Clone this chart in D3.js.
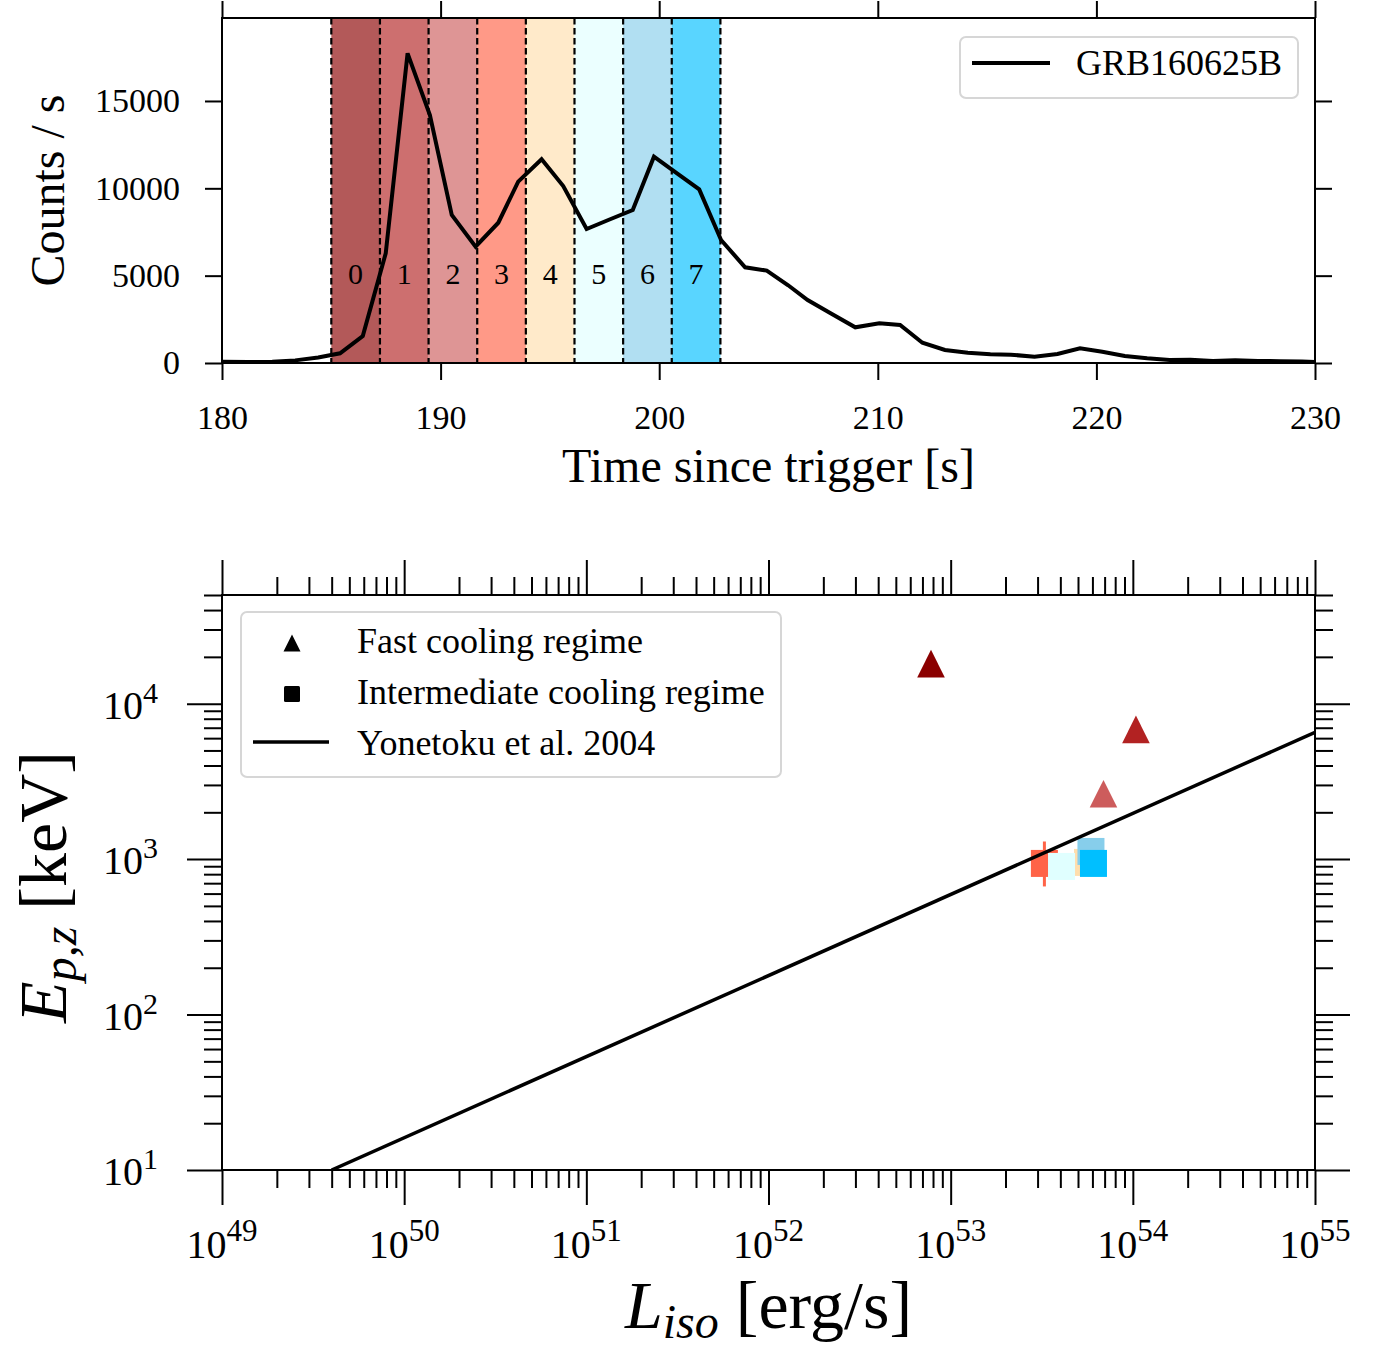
<!DOCTYPE html>
<html>
<head>
<meta charset="utf-8">
<style>
  body { margin: 0; background: #fff; }
  svg text { font-family: "Liberation Serif", "Times New Roman", serif; fill: #000; }
</style>
</head>
<body>
<script src="https://d3js.org/d3.v7.min.js"></script>
<script>
// ---- light curve (top panel) ----
var lcTime = [180.0, 181.2, 182.3, 183.35, 184.4, 185.4, 186.44, 187.49, 188.49, 189.51,
              190.51, 191.6, 192.64, 193.55, 194.62, 195.61, 196.68, 197.7, 198.79, 199.76,
              200.8, 201.83, 202.83, 203.93, 204.92, 205.9, 206.79, 207.9, 208.97, 210.07,
              211.02, 212.04, 213.07, 214.12, 215.15, 216.09, 217.17, 218.22, 219.25, 220.27,
              221.3, 222.32, 223.35, 224.3, 225.33, 226.35, 227.4, 228.4, 229.4, 230.0];
var lcCounts = [70, 60, 70, 150, 310, 555, 1545, 6280, 17727, 14196,
                8472, 6657, 8030, 10380, 11660, 10130, 7670, 8200, 8758, 11810,
                10870, 9940, 7040, 5480, 5290, 4450, 3606, 2800, 2043, 2272,
                2175, 1162, 744, 590, 498, 475, 361, 515, 841, 647,
                400, 269, 172, 189, 114, 155, 120, 100, 80, 60];

var bandEdges = [185, 187.225, 189.45, 191.675, 193.9, 196.125, 198.35, 200.575, 202.8];
var bandNames = ["0", "1", "2", "3", "4", "5", "6", "7"];
var bandColors = ["darkred", "firebrick", "indianred", "tomato",
                  "navajowhite", "lightcyan", "skyblue", "deepskyblue"];

var timeTicks = [180, 190, 200, 210, 220, 230];
var countTicks = [0, 5000, 10000, 15000];

// ---- Ep - Liso (bottom panel) ----
var ptBin = [0, 1, 2, 3, 4, 5, 6, 7];
var ptL = [7.8e52, 1.04e54, 6.9e53, 3.27e53, 5.64e53, 4.06e53, 5.89e53, 6.08e53];
var ptEp = [1.81e4, 6.83e3, 2.63e3, 938, 952, 897, 1120, 938];
var ptRegime = ["fast", "fast", "fast", "inter", "inter", "inter", "inter", "inter"];
var ptEpLo = [null, null, null, 667, null, null, null, null];
var ptEpHi = [null, null, null, 1298, null, null, null, null];

var yonetokuL = [4e49, 1e55];
var yonetokuEp = [10, 6540];

var lumMajor = [1e49, 1e50, 1e51, 1e52, 1e53, 1e54, 1e55];
var epMajor = [10, 100, 1000, 10000];

var W = 1387, H = 1353;
var svg = d3.select("body").append("svg").attr("width", W).attr("height", H);

// =============== top panel ===============
var t = { left: 222, right: 1315, top: 18, bottom: 363 };
var x1 = d3.scaleLinear().domain([180, 230]).range([t.left, t.right]);
var y1 = d3.scaleLinear().domain([0, 19750]).range([t.bottom, t.top]);

svg.append("clipPath").attr("id", "clipTop").append("rect")
  .attr("x", t.left).attr("y", t.top).attr("width", t.right - t.left).attr("height", t.bottom - t.top);

var bands = bandNames.map(function(n, i) {
  return { name: n, x0: bandEdges[i], x1: bandEdges[i + 1], color: bandColors[i] };
});

svg.append("g").selectAll("rect").data(bands).enter().append("rect")
  .attr("x", function(d) { return x1(d.x0); })
  .attr("width", function(d) { return x1(d.x1) - x1(d.x0); })
  .attr("y", t.top).attr("height", t.bottom - t.top)
  .attr("fill", function(d) { return d.color; })
  .attr("fill-opacity", 0.65);

svg.append("g").selectAll("line").data(bandEdges).enter().append("line")
  .attr("x1", function(d) { return x1(d); }).attr("x2", function(d) { return x1(d); })
  .attr("y1", t.top).attr("y2", t.bottom)
  .attr("stroke", "#000").attr("stroke-width", 2.2).attr("stroke-dasharray", "6.5,3.5");

svg.append("g").selectAll("text").data(bands).enter().append("text")
  .attr("x", function(d) { return x1((d.x0 + d.x1) / 2); })
  .attr("y", y1(5000) + 8)
  .attr("text-anchor", "middle").attr("font-size", 30)
  .text(function(d) { return d.name; });

var lc = lcTime.map(function(tt, i) { return [tt, lcCounts[i]]; });
svg.append("path").datum(lc)
  .attr("clip-path", "url(#clipTop)")
  .attr("fill", "none").attr("stroke", "#000").attr("stroke-width", 4)
  .attr("stroke-linejoin", "miter")
  .attr("d", d3.line().x(function(d) { return x1(d[0]); }).y(function(d) { return y1(d[1]); }));

function styleAxis(g, fs) {
  g.select(".domain").remove();
  g.selectAll(".tick line").attr("stroke", "#000").attr("stroke-width", 2);
  g.selectAll(".tick text").attr("font-size", fs).attr("font-family", "Liberation Serif, serif");
}

svg.append("g").attr("transform", "translate(0," + t.bottom + ")")
  .call(d3.axisBottom(x1).tickValues(timeTicks).tickSize(17).tickPadding(25).tickFormat(d3.format("d")))
  .call(styleAxis, 34);
svg.append("g").attr("transform", "translate(0," + t.top + ")")
  .call(d3.axisTop(x1).tickValues(timeTicks).tickSize(17).tickFormat(""))
  .call(styleAxis, 34);
svg.append("g").attr("transform", "translate(" + t.left + ",0)")
  .call(d3.axisLeft(y1).tickValues(countTicks).tickSize(17).tickPadding(25).tickFormat(d3.format("d")))
  .call(styleAxis, 34);
svg.append("g").attr("transform", "translate(" + t.right + ",0)")
  .call(d3.axisRight(y1).tickValues(countTicks).tickSize(17).tickFormat(""))
  .call(styleAxis, 34);

svg.append("rect").attr("x", t.left).attr("y", t.top)
  .attr("width", t.right - t.left).attr("height", t.bottom - t.top)
  .attr("fill", "none").attr("stroke", "#000").attr("stroke-width", 2);

svg.append("text").attr("x", (t.left + t.right) / 2).attr("y", 482)
  .attr("text-anchor", "middle").attr("font-size", 48).text("Time since trigger [s]");
svg.append("text").attr("transform", "translate(64," + ((t.top + t.bottom) / 2) + ") rotate(-90)")
  .attr("text-anchor", "middle").attr("font-size", 48).text("Counts / s");

// legend top
var lg1 = svg.append("g");
lg1.append("rect").attr("x", 960).attr("y", 37).attr("width", 338).attr("height", 61).attr("rx", 6)
  .attr("fill", "#fff").attr("stroke", "#d6d6d6").attr("stroke-width", 2);
lg1.append("line").attr("x1", 972).attr("x2", 1050).attr("y1", 63).attr("y2", 63)
  .attr("stroke", "#000").attr("stroke-width", 4);
lg1.append("text").attr("x", 1076).attr("y", 75).attr("font-size", 36).text("GRB160625B");

// =============== bottom panel ===============
var b = { left: 222, right: 1315, top: 595, bottom: 1170 };
var x2 = d3.scaleLog().domain([1e49, 1e55]).range([b.left, b.right]);
var y2 = d3.scaleLog().domain([10, 5e4]).range([b.bottom, b.top]);

svg.append("clipPath").attr("id", "clipBot").append("rect")
  .attr("x", b.left).attr("y", b.top).attr("width", b.right - b.left).attr("height", b.bottom - b.top);

var lumMinor = [], epMinor = [];
lumMajor.slice(0, -1).forEach(function(v) { for (var k = 2; k <= 9; k++) lumMinor.push(v * k); });
epMajor.forEach(function(v) { for (var k = 2; k <= 9; k++) if (v * k <= 5e4) epMinor.push(v * k); });

function logAxes() {
  [[d3.axisBottom, b.bottom], [d3.axisTop, b.top]].forEach(function(a) {
    svg.append("g").attr("transform", "translate(0," + a[1] + ")")
      .call(a[0](x2).tickValues(lumMajor).tickSize(35).tickFormat("")).call(styleAxis, 38);
    svg.append("g").attr("transform", "translate(0," + a[1] + ")")
      .call(a[0](x2).tickValues(lumMinor).tickSize(18).tickFormat("")).call(styleAxis, 38);
  });
  [[d3.axisLeft, b.left], [d3.axisRight, b.right]].forEach(function(a) {
    svg.append("g").attr("transform", "translate(" + a[1] + ",0)")
      .call(a[0](y2).tickValues(epMajor).tickSize(35).tickFormat("")).call(styleAxis, 38);
    svg.append("g").attr("transform", "translate(" + a[1] + ",0)")
      .call(a[0](y2).tickValues(epMinor).tickSize(18).tickFormat("")).call(styleAxis, 38);
  });
}
logAxes();

// tick labels 10^n
svg.append("g").selectAll("text").data(lumMajor).enter().append("text")
  .attr("x", function(d) { return x2(d); }).attr("y", 1258)
  .attr("text-anchor", "middle").attr("font-size", 40)
  .each(function(d) {
    var s = d3.select(this);
    s.append("tspan").text("10");
    s.append("tspan").attr("font-size", 31).attr("dy", -17).text(Math.round(Math.log10(d)));
  });
svg.append("g").selectAll("text").data(epMajor).enter().append("text")
  .attr("x", 158).attr("y", function(d) { return y2(d) + 15; })
  .attr("text-anchor", "end").attr("font-size", 40)
  .each(function(d) {
    var s = d3.select(this);
    s.append("tspan").text("10");
    s.append("tspan").attr("font-size", 30).attr("dy", -16).text(Math.round(Math.log10(d)));
  });

// points
var pts = ptBin.map(function(k, i) {
  return { L: ptL[i], Ep: ptEp[i], regime: ptRegime[i], color: bandColors[k], lo: ptEpLo[i], hi: ptEpHi[i] };
});
var gp = svg.append("g").attr("clip-path", "url(#clipBot)");
var th = 13.8, sq = 27;
pts.forEach(function(d) {
  var cx = x2(d.L), cy = y2(d.Ep);
  if (d.lo !== null) {
    gp.append("line").attr("x1", cx).attr("x2", cx).attr("y1", y2(d.lo)).attr("y2", y2(d.hi))
      .attr("stroke", d.color).attr("stroke-width", 3);
  }
  if (d.regime === "fast") {
    gp.append("path")
      .attr("d", "M" + cx + "," + (cy - th) + "L" + (cx + th) + "," + (cy + th) + "L" + (cx - th) + "," + (cy + th) + "Z")
      .attr("fill", d.color);
  } else {
    gp.append("rect").attr("x", cx - sq / 2).attr("y", cy - sq / 2).attr("width", sq).attr("height", sq)
      .attr("fill", d.color);
  }
});

// Yonetoku relation
svg.append("path").datum(yonetokuL.map(function(l, i) { return [l, yonetokuEp[i]]; }))
  .attr("clip-path", "url(#clipBot)")
  .attr("fill", "none").attr("stroke", "#000").attr("stroke-width", 3.5)
  .attr("d", d3.line().x(function(d) { return x2(d[0]); }).y(function(d) { return y2(d[1]); }));

svg.append("rect").attr("x", b.left).attr("y", b.top)
  .attr("width", b.right - b.left).attr("height", b.bottom - b.top)
  .attr("fill", "none").attr("stroke", "#000").attr("stroke-width", 2);

// legend bottom
var lg2 = svg.append("g");
lg2.append("rect").attr("x", 241).attr("y", 612).attr("width", 540).attr("height", 165).attr("rx", 6)
  .attr("fill", "#fff").attr("stroke", "#d6d6d6").attr("stroke-width", 2);
var lh = 8.5;
lg2.append("path")
  .attr("d", "M292," + (643 - lh) + "L" + (292 + lh) + "," + (643 + lh) + "L" + (292 - lh) + "," + (643 + lh) + "Z")
  .attr("fill", "#000");
lg2.append("rect").attr("x", 284).attr("y", 686).attr("width", 16).attr("height", 16).attr("rx", 1.5).attr("fill", "#000");
lg2.append("line").attr("x1", 253).attr("x2", 329).attr("y1", 742).attr("y2", 742)
  .attr("stroke", "#000").attr("stroke-width", 3.5);
var legendText = ["Fast cooling regime", "Intermediate cooling regime", "Yonetoku et al. 2004"];
lg2.selectAll("text").data(legendText).enter().append("text")
  .attr("x", 357).attr("y", function(d, i) { return 653 + i * 51; })
  .attr("font-size", 36).text(function(d) { return d; });

// axis labels
var xl = svg.append("text").attr("x", (b.left + b.right) / 2).attr("y", 1328)
  .attr("text-anchor", "middle").attr("font-size", 68);
xl.append("tspan").attr("font-style", "italic").text("L");
xl.append("tspan").attr("font-style", "italic").attr("font-size", 48).attr("dy", 10).text("iso");
xl.append("tspan").attr("dy", -10).text(" [erg/s]");

var yl = svg.append("text").attr("transform", "translate(66,887) rotate(-90)")
  .attr("text-anchor", "middle").attr("font-size", 68);
yl.append("tspan").attr("font-style", "italic").text("E");
yl.append("tspan").attr("font-style", "italic").attr("font-size", 48).attr("dy", 10).text("p,z");
yl.append("tspan").attr("dy", -10).text(" [keV]");
</script>
</body>
</html>
